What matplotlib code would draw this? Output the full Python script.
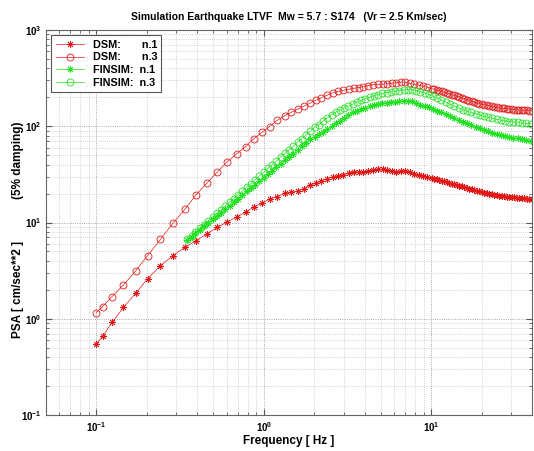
import matplotlib
matplotlib.use("Agg")
import matplotlib.pyplot as plt

plt.rcParams['font.family'] = ['Liberation Sans', 'DejaVu Sans']
plt.rcParams['font.weight'] = 'bold'
plt.rcParams['mathtext.default'] = 'regular'

# DSM frequencies (Hz), shared by both DSM stations
dsm_freq = [0.100, 0.109, 0.124, 0.145, 0.172, 0.202, 0.241, 0.287, 0.339, 0.394,
            0.457, 0.527, 0.602, 0.688, 0.780, 0.870, 0.977, 1.085, 1.20, 1.34,
            1.46, 1.59, 1.73, 1.88, 2.04, 2.21, 2.39, 2.58, 2.78, 2.99,
            3.21, 3.44, 3.68, 3.94, 4.21, 4.50, 4.80, 5.12, 5.46, 5.82,
            6.20, 6.60, 7.02, 7.46, 7.93, 8.42, 8.94, 9.49,
            10.1, 10.45, 10.8, 11.2, 11.6, 12.0, 12.4, 12.85, 13.3, 13.75,
            14.25, 14.75, 15.25, 15.8, 16.35, 16.9, 17.5, 18.1, 18.75, 19.4,
            20.1, 20.8, 21.5, 22.25, 23.0, 23.8, 24.65, 25.5, 26.4, 27.3,
            28.3, 29.3, 30.3, 31.4, 32.5, 33.6, 34.8, 36.0, 37.3, 38.6, 40.0]

dsm_n1 = [0.55, 0.655, 0.915, 1.31, 1.85, 2.6, 3.55, 4.54, 5.55, 6.45,
          7.64, 8.88, 10.1, 11.4, 12.8, 14.5, 15.9, 17.6, 18.6, 20.2,
          20.6, 21.2, 22.4, 24.4, 25.6, 27.0, 28.6, 29.8, 30.4, 31.4,
          32.6, 33.8, 33.4, 33.2, 34.2, 35.2, 35.9, 35.6, 34.8, 33.9,
          33.6, 34.2, 34.5, 33.6, 32.0, 31.0, 30.3, 29.7,
          29.0, 28.6, 28.2, 27.8, 27.3, 26.8, 26.3, 25.7, 25.3, 24.9,
          24.5, 24.1, 23.7, 23.3, 22.8, 22.4, 22.1, 21.7, 21.4, 21.0,
          20.7, 20.4, 20.1, 19.9, 19.6, 19.4, 19.2, 19.0, 18.8, 18.7,
          18.5, 18.4, 18.3, 18.2, 18.1, 18.0, 17.9, 17.8, 17.7, 17.7, 17.6]

dsm_n3 = [1.16, 1.34, 1.70, 2.24, 3.15, 4.51, 6.66, 9.86, 13.8, 19.4,
          25.7, 33.4, 42.4, 51.7, 61.6, 74, 86.8, 99.3, 115, 129,
          140, 150, 161, 173, 186, 198, 210, 222, 231, 236,
          242, 248, 252, 258, 265, 270, 272, 274, 276, 279,
          284, 288, 285, 279, 273, 267, 261, 254,
          246, 242, 238, 234, 230, 226, 222, 217, 213, 209,
          205, 201, 197, 193, 189, 185, 182, 178, 175, 172,
          169, 167, 165, 163, 161, 159, 157, 155, 154, 153,
          152, 151, 150, 149, 148, 147, 147, 146, 146, 145, 145]

# FINSIM frequencies (Hz), shared by both FINSIM stations
fin_freq = [0.35, 0.37, 0.39, 0.415, 0.44, 0.465, 0.495, 0.525, 0.555, 0.59,
            0.625, 0.66, 0.70, 0.745, 0.79, 0.835, 0.885, 0.94, 1.0, 1.06,
            1.12, 1.19, 1.26, 1.34, 1.42, 1.5, 1.59, 1.69, 1.79, 1.9,
            2.01, 2.13, 2.26, 2.4, 2.54, 2.69, 2.85, 3.02, 3.2, 3.4,
            3.6, 3.82, 4.05, 4.29, 4.55, 4.82, 5.11, 5.42, 5.74, 6.09,
            6.45, 6.84, 7.25, 7.68, 8.14, 8.63, 9.15, 9.7, 10.3, 10.9,
            11.5, 12.2, 13.0, 13.7, 14.6, 15.4, 16.4, 17.3, 18.4, 19.5,
            20.6, 21.9, 23.2, 24.6, 26.0, 27.6, 29.3, 31.0, 32.9, 34.9,
            37.0, 39.2]

fin_n1 = [6.6, 7.14, 7.7, 8.41, 9.14, 9.89, 10.8, 11.7, 12.7, 13.8,
          15.0, 16.2, 17.6, 19.3, 21.0, 22.7, 24.6, 26.9, 29.3, 31.8,
          34.4, 37.5, 40.7, 44.4, 48.2, 52.1, 56.6, 61.7, 67, 73,
          78, 83, 88, 94, 100, 107, 114, 122, 130, 139,
          145, 150, 156, 161, 166, 170, 173, 176, 178, 179,
          181, 184, 185, 181, 175, 168, 162, 157, 151, 145,
          139, 133, 127, 122, 116, 112, 107, 103, 99, 95,
          92, 89, 86, 84, 81, 79, 77, 76, 75, 74,
          72, 71]

fin_n3 = [6.7, 7.28, 7.9, 8.7, 9.5, 10.3, 11.4, 12.45, 13.55, 14.9,
          16.3, 17.7, 19.4, 21.3, 23.3, 25.3, 27.7, 30.4, 33.4, 36.5,
          39.7, 43.6, 47.6, 52.2, 57.1, 62.1, 67.9, 74.5, 81.4, 89.2,
          97.2, 104, 113, 123, 132, 140, 148, 155, 162, 170,
          178, 186, 193, 200, 207, 213, 219, 224, 228, 232,
          235, 238, 240, 239, 235, 229, 222, 214, 205, 196,
          188, 178, 169, 162, 155, 149, 143, 139, 135, 131,
          127, 124, 121, 118, 116, 114, 112, 111, 110, 108,
          107, 106]

red = '#e01818'
green = '#22e022'
asterisk = (8, 2, 0)   # matlab-like '*' marker

fig = plt.figure(figsize=(5.34, 4.51), dpi=100)
ax = fig.add_axes([46 / 534, 1 - 415 / 451, 486 / 534, 385 / 451])

ax.plot(dsm_freq, dsm_n1, color=red, lw=0.5, marker=asterisk, ms=5, mew=0.6,
        label='DSM:       n.1')
ax.plot(dsm_freq, dsm_n3, color=red, lw=0.5, marker='o', ms=5, mew=0.6,
        mfc='none', label='DSM:       n.3')
ax.plot(fin_freq, fin_n1, color=green, lw=0.5, marker=asterisk, ms=5, mew=0.6,
        label='FINSIM:  n.1')
ax.plot(fin_freq, fin_n3, color=green, lw=0.5, marker='o', ms=5, mew=0.6,
        mfc='none', label='FINSIM:  n.3')

ax.set_xscale('log')
ax.set_yscale('log')
ax.set_xlim(0.05, 40)
ax.set_ylim(0.1, 1000)

ax.grid(True, which='major', ls=':', color='#8a8a8a', lw=0.6)
ax.grid(True, which='minor', ls=':', color='#b8b8b8', lw=0.5)
ax.tick_params(which='both', direction='in', top=True, right=True,
               labelsize=7, color='#555555')
ax.tick_params(which='major', length=4)
ax.tick_params(which='minor', length=2)
for sp in ax.spines.values():
    sp.set_color('#666666')
    sp.set_linewidth(0.8)

ax.set_title('Simulation Earthquake LTVF  Mw = 5.7 : S174   (Vr = 2.5 Km/sec)',
             fontsize=7.5, fontweight='bold', pad=7)
ax.set_xlabel('Frequency [ Hz ]', fontsize=8.5, fontweight='bold', labelpad=1)

# y label is two pieces with a gap between them
fig.text(18 / 534, 1 - 290 / 451, 'PSA [ cm/sec**2 ]', rotation=90,
         ha='center', va='center', fontsize=8.5, fontweight='bold')
fig.text(18 / 534, 1 - 160 / 451, '(5% damping)', rotation=90,
         ha='center', va='center', fontsize=8.5, fontweight='bold')

leg = ax.legend(loc='upper left', fontsize=7.8, fancybox=False, framealpha=1,
                edgecolor='#555555', handlelength=2.6, borderpad=0.4,
                labelspacing=0.25, borderaxespad=0.5)
leg.get_frame().set_linewidth(0.8)

fig.savefig('out.png', dpi=100)
